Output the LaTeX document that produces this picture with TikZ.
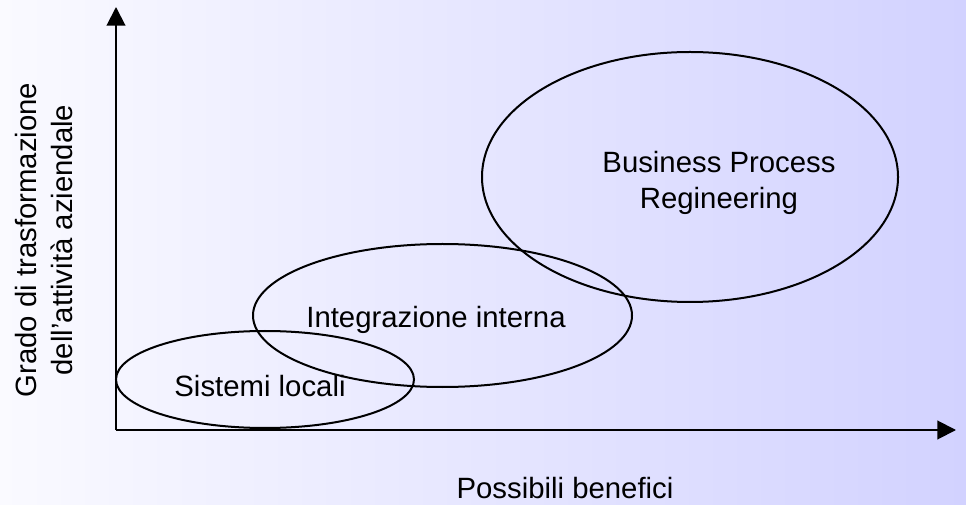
\documentclass[tikz,border=0pt]{standalone}
\usepackage{fontspec}
\setmainfont{Liberation Sans}
\usetikzlibrary{arrows.meta,shapes.geometric}
\definecolor{bgleft}{RGB}{250,250,255}
\definecolor{bgright}{RGB}{210,210,255}
\begin{document}
\begin{tikzpicture}[x=0.75pt,y=-0.75pt,>={Triangle[length=14pt,width=14pt]},
  axis/.style={line width=1.5pt,->},
  zone/.style={draw=black,line width=1.5pt,ellipse,inner sep=0pt},
  lbl/.style={font=\fontsize{22}{27.5}\selectfont,align=center,inner sep=0pt}]
\path[use as bounding box,left color=bgleft,right color=bgright] (0,0) rectangle (966,505);
\coordinate (o) at (116,430);
\coordinate (ytip) at (116,7);
\coordinate (xtip) at (956,430);
\draw[axis] (o) -- (ytip);
\draw[axis] (o) -- (xtip);
\node[zone,minimum width=223.5pt,minimum height=72.75pt] (loc) at (265,379.5) {};
\node[zone,minimum width=284.25pt,minimum height=107.25pt] (int) at (442.5,315.5) {};
\node[zone,minimum width=312pt,minimum height=187.5pt] (bpr) at (690,177) {};
\node[lbl] (loc_txt) at (260,386) {Sistemi locali};
\node[lbl] (int_txt) at (436,320) {Integrazione interna};
\node[lbl] (bpr_txt) at (719,183) {Business Process\\Regineering};
\node[lbl] (xlab) at (565,488) {Possibili benefici};
\node[lbl,rotate=90] (ylab) at (44,240) {Grado di trasformazione\\dell’attività aziendale};
\end{tikzpicture}
\end{document}
